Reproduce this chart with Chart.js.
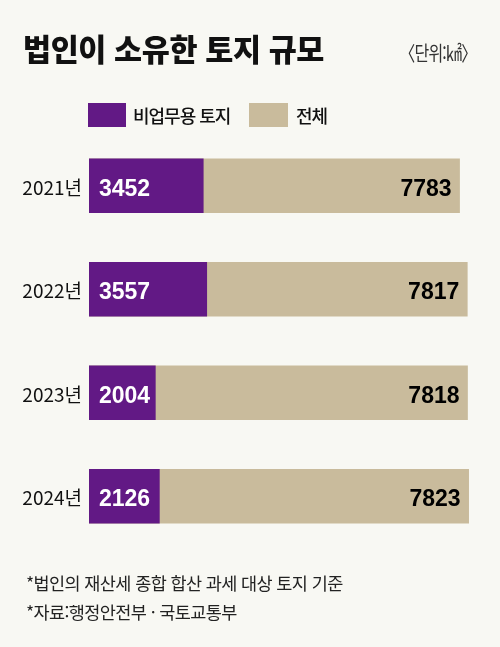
<!DOCTYPE html>
<html lang="ko">
<head>
<meta charset="utf-8">
<script src="https://cdn.jsdelivr.net/npm/chart.js@4.4.1/dist/chart.umd.min.js"></script>
<style>
  html, body { margin: 0; padding: 0; background: #f8f8f3; }
  #wrap { position: relative; width: 500px; height: 647px; overflow: hidden;
          font-family: "Noto Sans CJK KR", "Noto Sans", sans-serif; color: #111; }
  #chart { position: absolute; left: 0; top: 0; }
  .t { position: absolute; white-space: nowrap; }
  #title { left: 23px; top: 33px; font-size: 30.5px; line-height: 30px; font-weight: 900; letter-spacing: -0.4px; }
  #unit { right: 24px; top: 42px; font-size: 20px; line-height: 22px; color: #333;
          transform: scaleX(0.8); transform-origin: right center; letter-spacing: -1px; }
  .sw { position: absolute; top: 103px; height: 24px; }
  .lg { top: 104px; font-size: 18px; line-height: 22px; font-weight: 500; letter-spacing: -1px; }
  .note { left: 26px; font-size: 17.5px; line-height: 20px; letter-spacing: -0.6px; color: #222; }
</style>
</head>
<body>
<div id="wrap">
  <canvas id="chart" width="500" height="647"></canvas>
  <div class="t" id="title">법인이 소유한 토지 규모</div>
  <div class="t" id="unit">〈단위:㎢〉</div>
  <div class="sw" style="left:88px;width:38px;background:#621985"></div>
  <div class="t lg" style="left:133px">비업무용 토지</div>
  <div class="sw" style="left:249px;width:39px;background:#c9bb9c"></div>
  <div class="t lg" style="left:296px">전체</div>
  <div class="t note" style="top:573px">*법인의 재산세 종합 합산 과세 대상 토지 기준</div>
  <div class="t note" style="top:602px">*자료:행정안전부 · 국토교통부</div>
</div>
<script>
// 단위: ㎢
const years = ['2021년', '2022년', '2023년', '2024년'];
const unusedLand = [3452, 3557, 2004, 2126];
const totalLand = [7783, 7817, 7818, 7823];

const purple = '#621985';
const beige = '#c9bb9c';

// 막대 안쪽 숫자
const valueLabels = {
  id: 'valueLabels',
  afterDatasetsDraw(chart) {
    const ctx = chart.ctx;
    ctx.save();
    ctx.font = 'bold 23px "Liberation Sans", Arial, sans-serif';
    ctx.textBaseline = 'alphabetic';
    chart.getDatasetMeta(0).data.forEach((bar, i) => {
      ctx.fillStyle = '#fff';
      ctx.textAlign = 'left';
      ctx.fillText(unusedLand[i], bar.base + 10, bar.y + 10);
    });
    chart.getDatasetMeta(1).data.forEach((bar, i) => {
      ctx.fillStyle = '#000';
      ctx.textAlign = 'right';
      ctx.fillText(totalLand[i], bar.x - 8, bar.y + 10);
    });
    ctx.restore();
  }
};

const ctx = document.getElementById('chart').getContext('2d');
const landChart = new Chart(ctx, {
  type: 'bar',
  data: {
    labels: years,
    datasets: [{
      label: '비업무용 토지',
      data: unusedLand,
      backgroundColor: purple,
      xAxisID: 'x',
      grouped: false,
      barThickness: 54,
      borderWidth: 0
    }, {
      label: '전체',
      data: totalLand,
      backgroundColor: beige,
      xAxisID: 'x2',
      grouped: false,
      barThickness: 54,
      borderWidth: 0
    }]
  },
  options: {
    indexAxis: 'y',
    responsive: false,
    animation: false,
    layout: { padding: { top: 134, bottom: 99, left: 0, right: 20 } },
    scales: {
      x: { display: false, min: 0, max: 11813 },
      x2: { display: false, min: 6151, max: 7873 },
      y: {
        afterFit(scale) { scale.width = 89; },
        grid: { display: false, drawTicks: false },
        border: { display: false },
        ticks: {
          padding: 7,
          labelOffset: 2,
          color: '#111',
          font: { family: '"Noto Sans CJK KR", sans-serif', size: 19 }
        }
      }
    },
    plugins: {
      legend: { display: false },
      tooltip: { enabled: false }
    }
  },
  plugins: [valueLabels]
});
</script>
</body>
</html>
